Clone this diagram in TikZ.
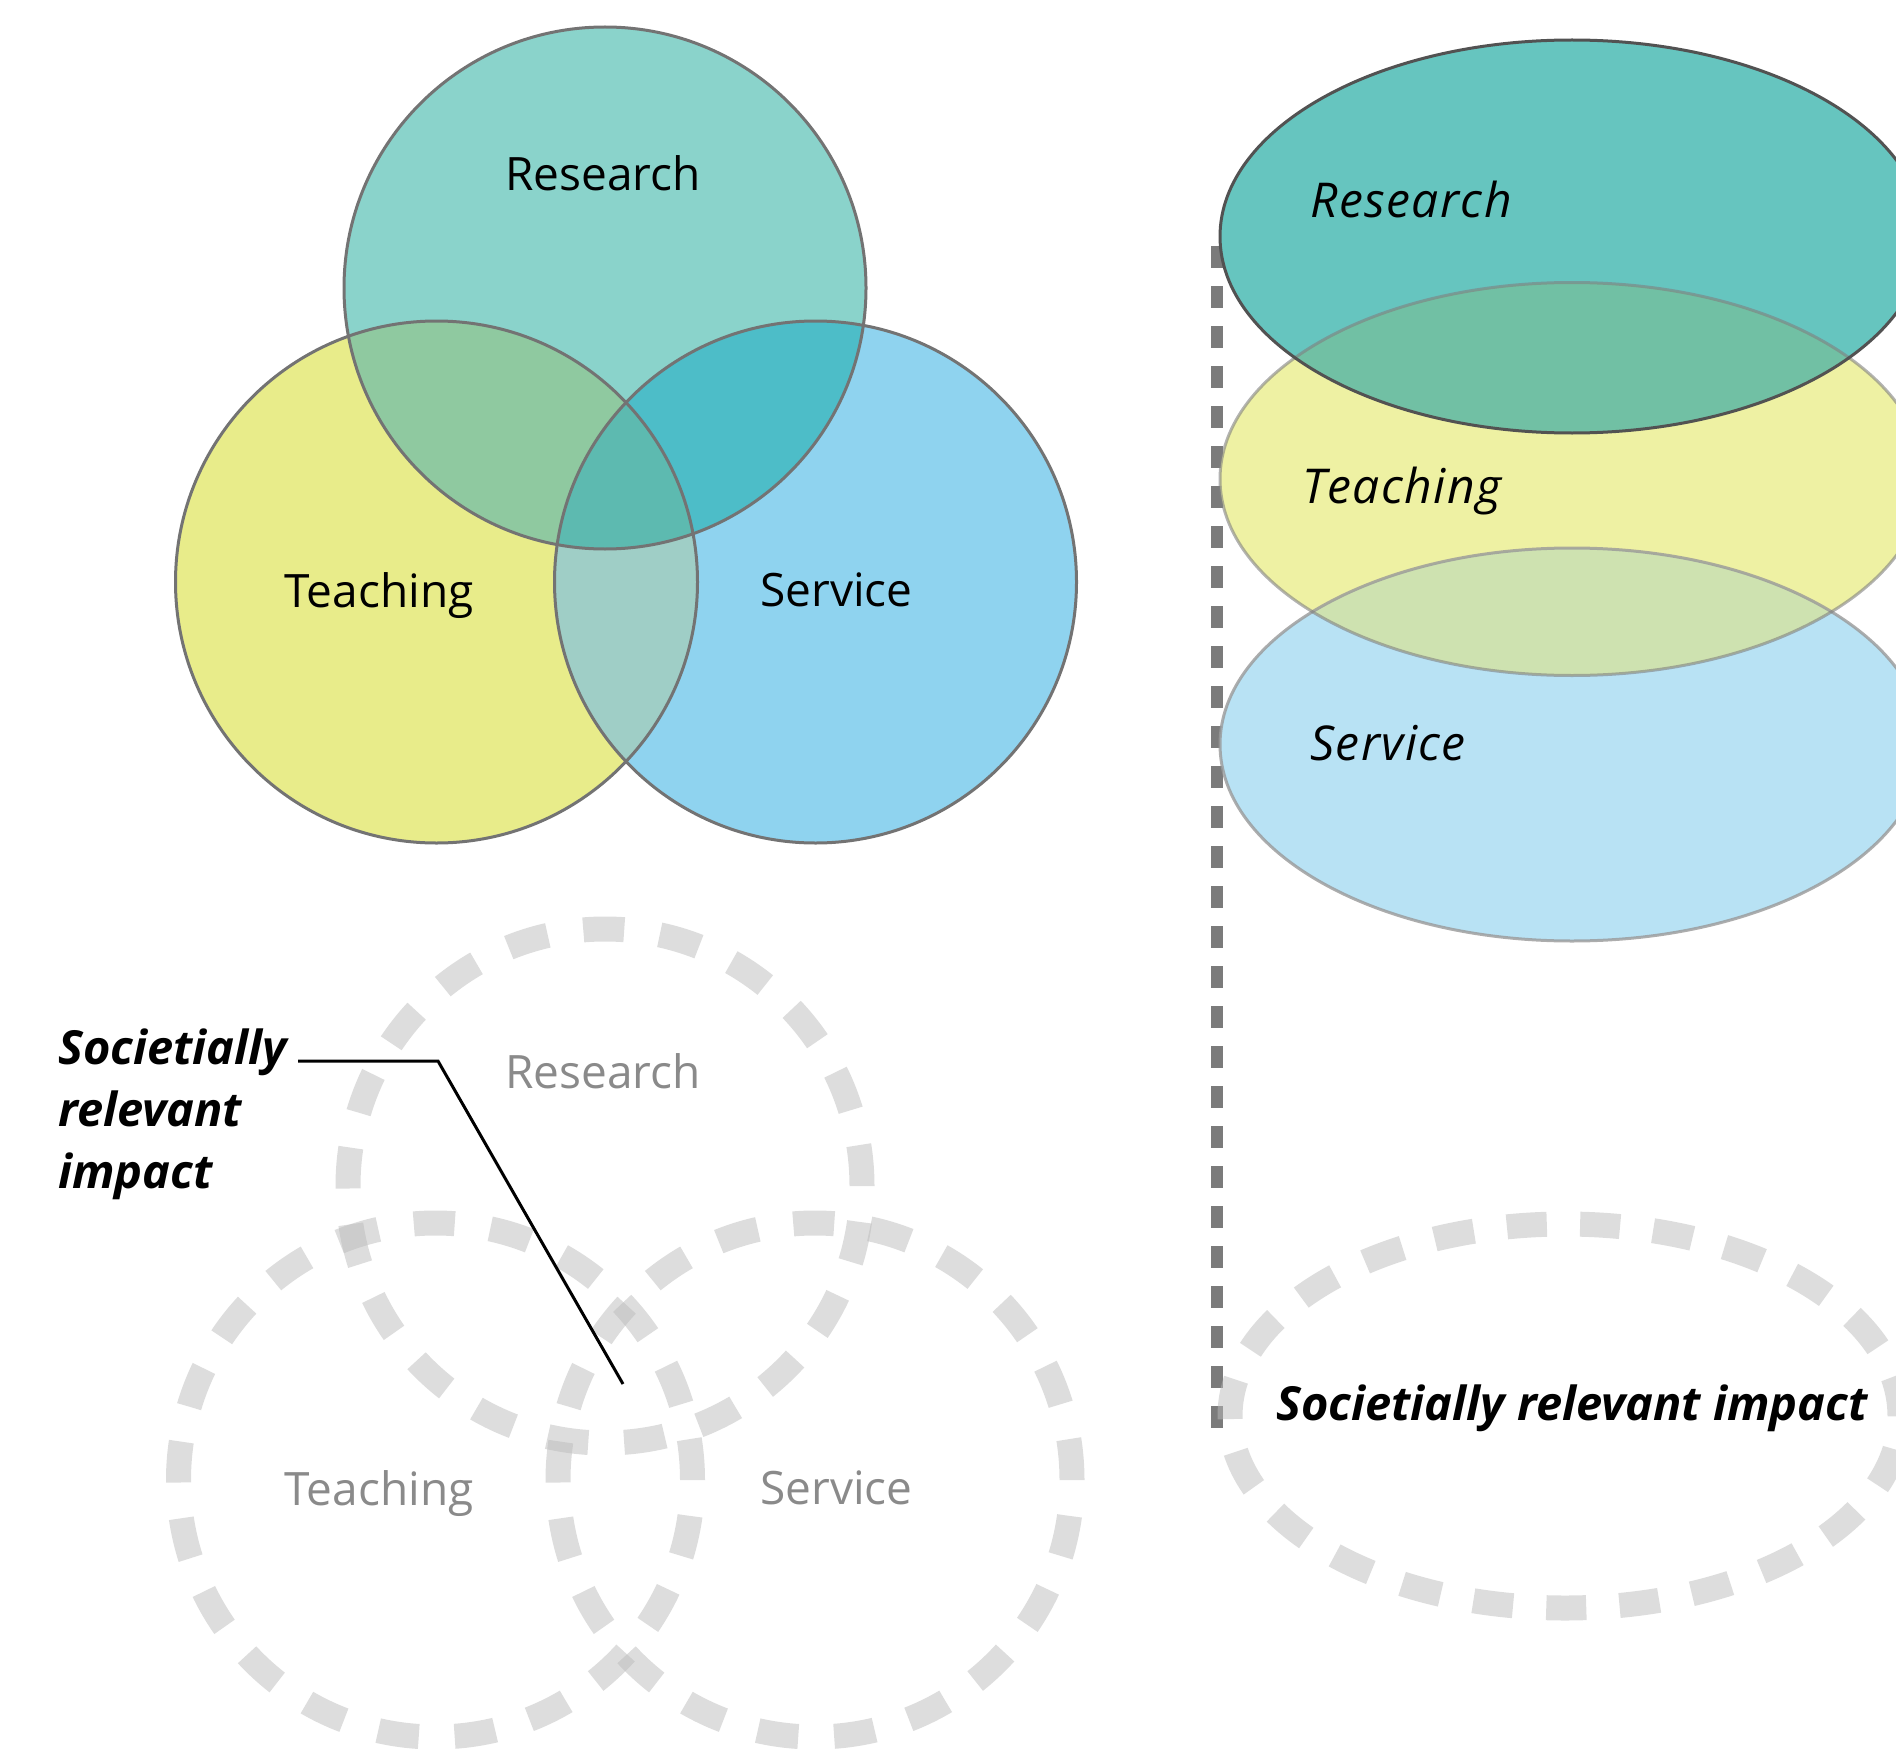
\documentclass[tikz,border=0pt]{standalone}
\usepackage{fontspec}
\setmainfont{Open Sans}
\definecolor{rTeal}{HTML}{8AD3CB}
\definecolor{tYellow}{HTML}{E8EC8A}
\definecolor{sBlue}{HTML}{8FD3EF}
\definecolor{mixRT}{HTML}{8FC9A0}
\definecolor{mixRS}{HTML}{4DBDC8}
\definecolor{mixTS}{HTML}{9FCEC6}
\definecolor{mixRTS}{HTML}{5DBAB0}
\definecolor{ringGray}{HTML}{737373}
\definecolor{eTeal}{HTML}{66C5BF}
\definecolor{eYellow}{HTML}{EEF1A3}
\definecolor{eBlue}{HTML}{B8E2F4}
\definecolor{eMixRT}{HTML}{71C0A4}
\definecolor{eMixTS}{HTML}{CEE2B0}
\definecolor{dashGray}{HTML}{BBBBBB}
\definecolor{railGray}{HTML}{7B7B7B}
\definecolor{softText}{HTML}{8A8A8A}
\begin{document}
\begin{tikzpicture}[x=1pt,y=-1pt,
  lbl/.style={font=\fontsize{46}{55}\selectfont, inner sep=0pt, anchor=base},
  ilbl/.style={font=\fontsize{48}{55}\selectfont\itshape\addfontfeatures{LetterSpace=3}, inner sep=0pt, anchor=base west},
  bold lbl/.style={font=\fontsize{47}{62}\selectfont\bfseries\itshape, inner sep=0pt},
  ring/.style={draw=ringGray, line width=3pt},
  dashring/.style={draw=dashGray, line width=25pt, draw opacity=0.5},
  rail/.style={draw=railGray, line width=12pt, dash pattern=on 22pt off 18pt},
  leader/.style={draw=black, line width=3pt}]
\useasboundingbox (0,0) rectangle (1896,1755);
\begin{scope}
\clip (0,0) rectangle (1896,1755);

% ---------- solid Venn diagram ----------
\coordinate (cR) at (605,288);
\coordinate (cT) at (436.5,582);
\coordinate (cS) at (815.5,582);
\def\rr{261pt}
\fill[tYellow] (cT) circle[radius=\rr];
\fill[sBlue] (cS) circle[radius=\rr];
\fill[rTeal] (cR) circle[radius=\rr];
\begin{scope}
  \clip (cR) circle[radius=\rr];
  \fill[mixRT] (cT) circle[radius=\rr];
  \fill[mixRS] (cS) circle[radius=\rr];
\end{scope}
\begin{scope}
  \clip (cT) circle[radius=\rr];
  \fill[mixTS] (cS) circle[radius=\rr];
  \clip (cR) circle[radius=\rr];
  \fill[mixRTS] (cS) circle[radius=\rr];
\end{scope}
\draw[ring] (cT) circle[radius=\rr];
\draw[ring] (cS) circle[radius=\rr];
\draw[ring] (cR) circle[radius=\rr];
\node[lbl] (research) at (603,191) {Research};
\node[lbl] (teaching) at (379,607) {Teaching};
\node[lbl] (service) at (836.5,606) {Service};

% ---------- dashed Venn diagram ----------
\coordinate (dR) at (605,1186);
\coordinate (dT) at (435.5,1480);
\coordinate (dS) at (815,1480);
\def\dr{257pt}
\draw[dashring, dash pattern=on 41pt off 35.9pt] (dR) circle[radius=\dr];
\draw[dashring, dash pattern=on 41pt off 35.9pt] (dT) circle[radius=\dr];
\draw[dashring, dash pattern=on 41pt off 35.9pt] (dS) circle[radius=\dr];
\node[lbl, text=softText] (research2) at (603,1088) {Research};
\node[lbl, text=softText] (teaching2) at (379,1505) {Teaching};
\node[lbl, text=softText] (service2) at (836.5,1504) {Service};

% the base anchor of a multi-line node sits on its last line
\node[bold lbl, anchor=base west, align=left] (impact) at (58,1188)
  {Societially\\relevant\\impact};
\coordinate (lead) at (298,1061);
\coordinate (knee) at (438,1061);
\coordinate (hub) at (623,1384);
\draw[leader] (lead) -- (knee) -- (hub);

% ---------- stacked ellipses ----------
\coordinate (railTop) at (1217,246);
\coordinate (railBot) at (1217,1428);
\draw[rail] (railTop) -- (railBot);

\coordinate (eR) at (1572,236.5);
\coordinate (eT) at (1572,479);
\coordinate (eS) at (1572,744.5);
\def\ex{352pt}
\def\ey{196.5pt}
\fill[eBlue] (eS) ellipse[x radius=\ex, y radius=\ey];
\fill[eYellow] (eT) ellipse[x radius=\ex, y radius=\ey];
\fill[eTeal] (eR) ellipse[x radius=\ex, y radius=\ey];
\begin{scope}
  \clip (eR) ellipse[x radius=\ex, y radius=\ey];
  \fill[eMixRT] (eT) ellipse[x radius=\ex, y radius=\ey];
\end{scope}
\begin{scope}
  \clip (eT) ellipse[x radius=\ex, y radius=\ey];
  \fill[eMixTS] (eS) ellipse[x radius=\ex, y radius=\ey];
\end{scope}
\draw[draw=black!40, line width=3pt, draw opacity=0.8] (eS) ellipse[x radius=\ex, y radius=\ey];
\draw[draw=black!50, line width=3pt, draw opacity=0.6] (eT) ellipse[x radius=\ex, y radius=\ey];
\draw[draw=black!68, line width=3pt] (eR) ellipse[x radius=\ex, y radius=\ey];
\node[ilbl] (researchE) at (1310,218) {Research};
\node[ilbl] (teachingE) at (1302,503) {Teaching};
\node[ilbl] (serviceE) at (1310,760) {Service};

\coordinate (dE) at (1565,1416);
\draw[dashring, dash pattern=on 40pt off 33.3pt] (dE) ellipse[x radius=335pt, y radius=192pt];
\node[bold lbl, anchor=base] (impact2) at (1572,1420) {Societially relevant impact};
\end{scope}
\end{tikzpicture}
\end{document}
